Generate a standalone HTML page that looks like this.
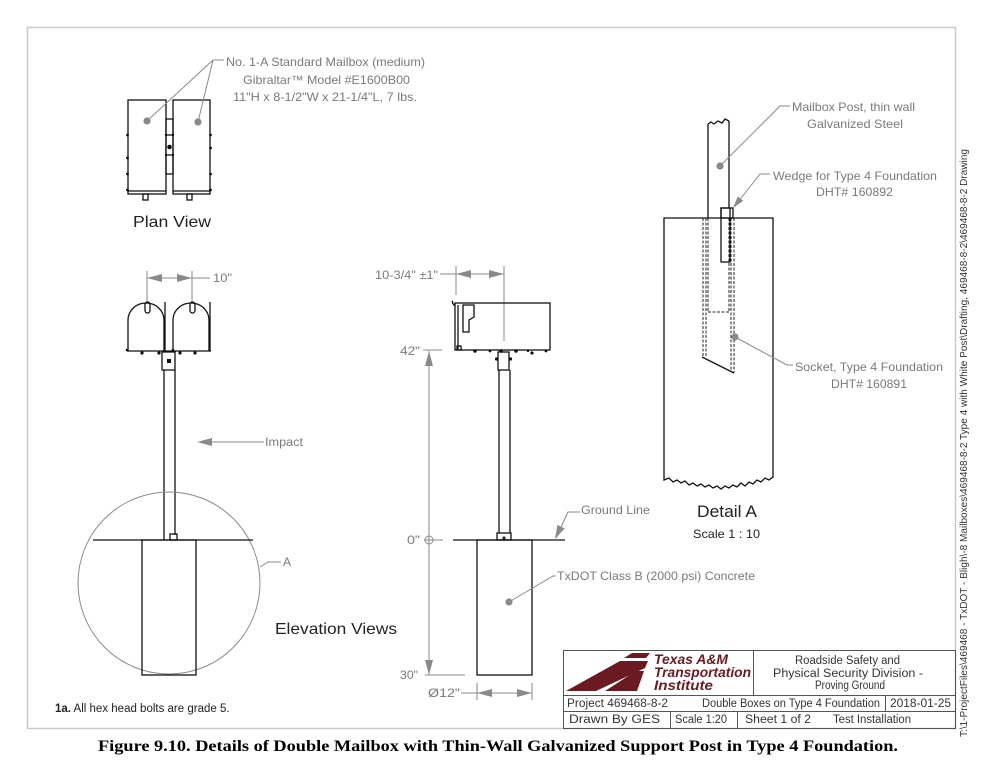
<!DOCTYPE html>
<html><head><meta charset="utf-8"><style>
html,body{margin:0;padding:0;background:#fff;}
svg{display:block;}
.lb{fill:#7a7a7a;font-size:12px;font-family:"Liberation Sans",sans-serif;}
.dk{fill:#222;font-family:"Liberation Sans",sans-serif;}
.k{stroke:#111;stroke-width:1.3;fill:none;}
.g{stroke:#8a8a8a;stroke-width:1;fill:none;}
.ga{fill:#8a8a8a;stroke:none;}
.hd{stroke:#222;stroke-width:1;fill:none;stroke-dasharray:3 1.5;}
.tb{stroke:#555;stroke-width:1;fill:none;}
.tt{fill:#333;font-size:11.5px;font-family:"Liberation Sans",sans-serif;}
.logo{fill:#6a1a20;font-weight:bold;font-style:italic;font-size:14px;font-family:"Liberation Sans",sans-serif;}
.cap{fill:#000;font-weight:bold;font-size:16px;font-family:"Liberation Serif",serif;}
.vt{fill:#333;font-size:10px;font-family:"Liberation Sans",sans-serif;}
</style></head><body>
<svg width="990" height="764" viewBox="0 0 990 764" xmlns="http://www.w3.org/2000/svg">
<!-- frame -->
<rect x="27.5" y="27.5" width="928" height="701" fill="none" stroke="#c8c8c8" stroke-width="1.5"/>

<!-- ===== PLAN VIEW ===== -->
<rect class="k" x="128" y="100" width="38" height="94"/>
<rect class="k" x="173" y="100" width="37" height="94"/>
<line class="k" x1="128" y1="191" x2="166" y2="191" stroke-width="0.8"/>
<line class="k" x1="173" y1="191" x2="210" y2="191" stroke-width="0.8"/>
<rect class="k" x="166" y="119" width="7" height="55" stroke-width="1"/>
<line class="k" x1="166" y1="135" x2="173" y2="135" stroke-width="1"/>
<line class="k" x1="166" y1="155" x2="173" y2="155" stroke-width="1"/>
<circle cx="169.5" cy="147" r="2.3" fill="#111"/>
<g fill="#111">
<circle cx="127.5" cy="135" r="1.4"/><circle cx="127.5" cy="158" r="1.4"/><circle cx="127.5" cy="174" r="1.4"/><circle cx="127.5" cy="190" r="1.4"/>
<circle cx="210.5" cy="135" r="1.4"/><circle cx="210.5" cy="148" r="1.4"/><circle cx="210.5" cy="174" r="1.4"/><circle cx="210.5" cy="190" r="1.4"/>
<circle cx="166" cy="135" r="1.2"/><circle cx="173" cy="135" r="1.2"/><circle cx="166" cy="155" r="1.2"/><circle cx="173" cy="155" r="1.2"/>
</g>
<rect class="k" x="143" y="194" width="5" height="6" stroke-width="1"/>
<rect class="k" x="187" y="194" width="5" height="6" stroke-width="1"/>
<circle cx="147" cy="121" r="3.6" class="ga"/>
<circle cx="198" cy="122" r="3.6" class="ga"/>
<polyline class="g" points="147,121 213,60 224,60"/>
<line class="g" x1="198" y1="122" x2="213" y2="60"/>
<text class="lb" x="226" y="66" textLength="199" lengthAdjust="spacingAndGlyphs">No. 1-A Standard Mailbox (medium)</text>
<text class="lb" x="243" y="84" textLength="167" lengthAdjust="spacingAndGlyphs">Gibraltar™ Model #E1600B00</text>
<text class="lb" x="233" y="101" textLength="184" lengthAdjust="spacingAndGlyphs">11"H x 8-1/2"W x 21-1/4"L, 7 lbs.</text>
<text class="dk" x="133" y="227" font-size="16" textLength="78" lengthAdjust="spacingAndGlyphs">Plan View</text>

<!-- ===== LEFT ELEVATION ===== -->
<line class="g" x1="147" y1="271" x2="147" y2="303"/>
<line class="g" x1="192" y1="271" x2="192" y2="303"/>
<line class="g" x1="147" y1="278" x2="210" y2="278"/>
<polygon class="ga" points="147,278 162,274 162,282"/>
<polygon class="ga" points="192,278 177,274 177,282"/>
<text class="lb" x="213" y="282" textLength="19" lengthAdjust="spacingAndGlyphs">10"</text>

<path class="k" d="M128,351 L128,320 A18,17 0 0 1 164,320 L164,351"/>
<path class="k" d="M173,351 L173,320 A18,17 0 0 1 209,320 L209,351"/>
<line class="k" x1="165" y1="302" x2="165" y2="351"/>
<line class="k" x1="210" y1="302" x2="210" y2="351"/>
<rect class="k" x="145" y="302" width="5" height="11" rx="2.5" stroke-width="1"/>
<rect class="k" x="190" y="302" width="5" height="11" rx="2.5" stroke-width="1"/>
<line class="k" x1="127" y1="351" x2="211" y2="351"/>
<g fill="#111"><circle cx="142" cy="353" r="1.6"/><circle cx="159" cy="353" r="1.6"/><circle cx="180" cy="353" r="1.6"/><circle cx="195" cy="353" r="1.6"/><circle cx="127" cy="350" r="1.3"/><circle cx="173" cy="350" r="1.3"/></g>
<rect class="k" x="162" y="352" width="13" height="18" stroke-width="1"/>
<rect x="167" y="359" width="4" height="4" fill="#111"/>
<line class="k" x1="164" y1="370" x2="164" y2="540"/>
<line class="k" x1="175" y1="370" x2="175" y2="535"/>
<rect class="k" x="170" y="534" width="7" height="6" stroke-width="1"/>

<polygon class="ga" points="197,442 212,438 212,446"/>
<line class="g" x1="212" y1="442" x2="264" y2="442"/>
<text class="lb" x="265" y="446" textLength="38" lengthAdjust="spacingAndGlyphs">Impact</text>

<circle cx="169" cy="583" r="91" class="g"/>
<line class="k" x1="93" y1="540" x2="253" y2="540"/>
<rect class="k" x="142" y="540" width="54" height="135"/>
<polyline class="g" points="260,567 268,562 281,562"/>
<text class="lb" x="283" y="566">A</text>
<text class="dk" x="275" y="634" font-size="16" textLength="122" lengthAdjust="spacingAndGlyphs">Elevation Views</text>
<text class="dk" x="55" y="712" font-size="11.5"><tspan font-weight="bold">1a.</tspan> All hex head bolts are grade 5.</text>

<!-- ===== MIDDLE ELEVATION ===== -->
<text class="lb" x="375" y="279" textLength="63" lengthAdjust="spacingAndGlyphs">10-3/4" ±1"</text>
<line class="g" x1="440" y1="274" x2="504" y2="274"/>
<line class="g" x1="456" y1="266" x2="456" y2="295"/>
<line class="g" x1="504" y1="266" x2="504" y2="341"/>
<polygon class="ga" points="456,274 471,270 471,278"/>
<polygon class="ga" points="504,274 489,270 489,278"/>

<rect class="k" x="455" y="303" width="95" height="47"/>
<path class="k" d="M455,306 Q451,302 453,301" stroke-width="1"/>
<line class="k" x1="458" y1="305" x2="458" y2="349" stroke-width="1"/>
<path class="k" d="M463,305 L474,305 L474,317 L469,320 L469,332 L463,332 Z" stroke-width="1"/>
<rect class="k" x="457" y="346" width="4" height="4" stroke-width="0.8"/>
<g fill="#111"><circle cx="475" cy="351" r="1.8"/><circle cx="490" cy="351" r="1.4"/><circle cx="501" cy="351" r="1.8"/><circle cx="516" cy="351" r="1.8"/><circle cx="528" cy="351" r="1.2"/><circle cx="546" cy="351" r="1.4"/><circle cx="532" cy="353" r="1.6"/></g>
<rect class="k" x="498" y="352" width="11" height="18" stroke-width="1"/>
<circle cx="496.5" cy="359" r="1.6" fill="#111"/><circle cx="510.5" cy="359" r="1.6" fill="#111"/>
<line class="k" x1="499" y1="370" x2="499" y2="533"/>
<line class="k" x1="510" y1="370" x2="510" y2="533"/>
<rect class="k" x="497" y="533" width="14" height="7" stroke-width="1"/>
<circle cx="504" cy="538" r="1.5" fill="#111"/>
<line class="k" x1="453" y1="540" x2="565" y2="540"/>
<rect class="k" x="477" y="540" width="55" height="135"/>

<text class="lb" x="400" y="355" textLength="20" lengthAdjust="spacingAndGlyphs">42"</text>
<line class="g" x1="423" y1="350" x2="442" y2="350"/>
<line class="g" x1="429" y1="351" x2="429" y2="675"/>
<polygon class="ga" points="429,351 425,366 433,366"/>
<polygon class="ga" points="429,675 425,660 433,660"/>
<text class="lb" x="407" y="544" textLength="13" lengthAdjust="spacingAndGlyphs">0"</text>
<circle cx="429" cy="540" r="4" class="g"/>
<line class="g" x1="424" y1="540" x2="443" y2="540"/>
<text class="lb" x="400" y="679" textLength="18" lengthAdjust="spacingAndGlyphs">30"</text>
<line class="g" x1="425" y1="675" x2="465" y2="675"/>
<text class="lb" x="428" y="697" textLength="32" lengthAdjust="spacingAndGlyphs">Ø12"</text>
<line class="g" x1="461" y1="693" x2="532" y2="693"/>
<line class="g" x1="477" y1="683" x2="477" y2="700"/>
<line class="g" x1="532" y1="683" x2="532" y2="700"/>
<polygon class="ga" points="477,693 492,689 492,697"/>
<polygon class="ga" points="532,693 517,689 517,697"/>

<polyline class="g" points="556,538 568,512 580,512"/>
<polygon class="ga" points="555,539 564.6,528.5 557.4,524.9"/>
<text class="lb" x="581" y="514" textLength="69" lengthAdjust="spacingAndGlyphs">Ground Line</text>
<circle cx="509" cy="602" r="3.6" class="ga"/>
<polyline class="g" points="509,602 553,576 556,576"/>
<text class="lb" x="557" y="580" textLength="198" lengthAdjust="spacingAndGlyphs">TxDOT Class B (2000 psi) Concrete</text>

<!-- ===== DETAIL A ===== -->
<path class="k" d="M664,218 L773,218 L773,477 L769,480 L765,478 L761,482 L757,480 L753,484 L749,482 L745,486 L741,483 L737,487 L733,485 L729,488 L725,486 L721,489 L717,486 L713,488 L709,485 L705,487 L701,484 L697,486 L693,483 L689,485 L685,481 L681,483 L677,480 L673,482 L669,478 L664,480 Z"/>
<polyline class="k" points="708,124 711,122 714,124 718,121 722,123 725,119 729,121" stroke-width="1"/>
<line class="k" x1="708" y1="124" x2="708" y2="218" stroke-width="1.1"/>
<line class="k" x1="729" y1="121" x2="729" y2="208" stroke-width="1.1"/>
<line class="hd" x1="708" y1="218" x2="708" y2="312"/>
<line class="hd" x1="729" y1="218" x2="729" y2="312"/>
<line class="hd" x1="708" y1="312" x2="729" y2="312"/>
<line class="hd" x1="703" y1="218" x2="703" y2="357"/>
<line class="hd" x1="706" y1="218" x2="706" y2="356"/>
<line class="hd" x1="731" y1="218" x2="731" y2="371"/>
<line class="hd" x1="734" y1="218" x2="734" y2="373"/>
<line class="k" x1="702" y1="357" x2="734" y2="373" stroke-width="1"/>
<rect class="k" x="721" y="208" width="9" height="54"/>
<rect class="k" x="721" y="208" width="12" height="10" stroke-width="1"/>

<circle cx="720" cy="166" r="3.6" class="ga"/>
<polyline class="g" points="720,166 780,106 790,106"/>
<text class="lb" x="792" y="111" textLength="123" lengthAdjust="spacingAndGlyphs">Mailbox Post, thin wall</text>
<text class="lb" x="807" y="128" textLength="96" lengthAdjust="spacingAndGlyphs">Galvanized Steel</text>
<polyline class="g" points="734,207 760,174 770,174"/>
<polygon class="ga" points="733,208 743.2,200.8 737.8,196.4"/>
<text class="lb" x="773" y="180" textLength="164" lengthAdjust="spacingAndGlyphs">Wedge for Type 4 Foundation</text>
<text class="lb" x="816" y="196" textLength="77" lengthAdjust="spacingAndGlyphs">DHT# 160892</text>
<circle cx="735" cy="337" r="3.6" class="ga"/>
<polyline class="g" points="735,337 787,365 793,365"/>
<text class="lb" x="795" y="371" textLength="148" lengthAdjust="spacingAndGlyphs">Socket, Type 4 Foundation</text>
<text class="lb" x="831" y="388" textLength="76" lengthAdjust="spacingAndGlyphs">DHT# 160891</text>
<text class="dk" x="697" y="517" font-size="17" textLength="60" lengthAdjust="spacingAndGlyphs">Detail A</text>
<text class="dk" x="693" y="538" font-size="12" textLength="67" lengthAdjust="spacingAndGlyphs">Scale 1 : 10</text>

<!-- ===== TITLE BLOCK ===== -->
<rect class="tb" x="563.5" y="650.5" width="392" height="78"/>
<line class="tb" x1="563" y1="695.5" x2="955" y2="695.5"/>
<line class="tb" x1="563" y1="711.5" x2="955" y2="711.5"/>
<line class="tb" x1="753.5" y1="650" x2="753.5" y2="695"/>
<line class="tb" x1="885.5" y1="695" x2="885.5" y2="711"/>
<line class="tb" x1="670.5" y1="711" x2="670.5" y2="728"/>
<line class="tb" x1="737.5" y1="711" x2="737.5" y2="728"/>
<g fill="#6a1a20">
<polygon points="632,653 650,653 646,658 624,658"/>
<polygon points="566,691 620,661 648,661 645,668 596,691"/>
<polygon points="605,691 636,671 644,671 637,691"/>
</g>
<text class="logo" x="654" y="664" textLength="74" lengthAdjust="spacingAndGlyphs">Texas A&amp;M</text>
<text class="logo" x="654" y="677" textLength="97" lengthAdjust="spacingAndGlyphs">Transportation</text>
<text class="logo" x="654" y="690" textLength="59" lengthAdjust="spacingAndGlyphs">Institute</text>
<text class="tt" x="795" y="664" textLength="105" lengthAdjust="spacingAndGlyphs">Roadside Safety and</text>
<text class="tt" x="773" y="677" textLength="150" lengthAdjust="spacingAndGlyphs">Physical Security Division -</text>
<text class="tt" x="815" y="689" font-size="10.5" textLength="70" lengthAdjust="spacingAndGlyphs">Proving Ground</text>
<text class="tt" x="567" y="707" textLength="101" lengthAdjust="spacingAndGlyphs">Project  469468-8-2</text>
<text class="tt" x="702" y="707" textLength="178" lengthAdjust="spacingAndGlyphs">Double Boxes on Type 4 Foundation</text>
<text class="tt" x="890" y="707" textLength="61" lengthAdjust="spacingAndGlyphs">2018-01-25</text>
<text class="tt" x="569" y="723" textLength="91" lengthAdjust="spacingAndGlyphs">Drawn By   GES</text>
<text class="tt" x="675" y="723" textLength="52" lengthAdjust="spacingAndGlyphs">Scale 1:20</text>
<text class="tt" x="745" y="723" textLength="66" lengthAdjust="spacingAndGlyphs">Sheet   1 of 2</text>
<text class="tt" x="833" y="723" textLength="78" lengthAdjust="spacingAndGlyphs">Test Installation</text>

<!-- vertical path text -->
<text class="vt" transform="translate(967,737) rotate(-90)" textLength="588" lengthAdjust="spacingAndGlyphs">T:\1-ProjectFiles\469468 - TxDOT - Bligh\-8 Mailboxes\469468-8-2 Type 4 with White Post\Drafting, 469468-8-2\469468-8-2 Drawing</text>

<!-- caption -->
<text class="cap" x="98" y="751" textLength="800" lengthAdjust="spacingAndGlyphs">Figure 9.10. Details of Double Mailbox with Thin-Wall Galvanized Support Post in Type 4 Foundation.</text>
</svg>
</body></html>
